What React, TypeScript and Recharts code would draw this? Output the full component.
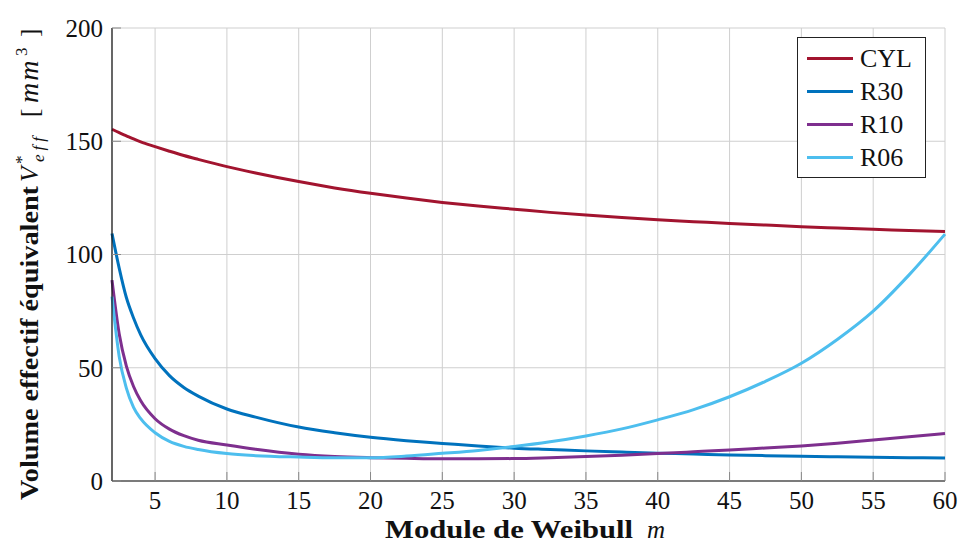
import React from 'react'
import { LineChart, Line, XAxis, YAxis, CartesianGrid, Legend } from 'recharts'

// m values (Weibull modulus) and effective volumes
const modules = [2, 2.5, 3, 3.5, 4, 5, 6, 7, 8, 10, 12, 15, 17.5, 20, 22.5, 25, 27.5, 30, 32.5, 35, 37.5, 40, 42.5, 45, 47.5, 50, 52.5, 55, 57.5, 60]
const cyl = [155.3, 153.8, 152.4, 151, 149.7, 147.6, 145.6, 143.7, 142, 138.8, 136, 132.2, 129.4, 127, 124.9, 123, 121.4, 120, 118.6, 117.4, 116.3, 115.3, 114.5, 113.7, 113, 112.3, 111.7, 111.1, 110.6, 110.1]
const r30 = [109.3, 94, 81, 72, 64.5, 54, 46.5, 41.3, 37.5, 31.8, 28.2, 23.8, 21.3, 19.3, 17.8, 16.6, 15.4, 14.5, 13.9, 13.3, 12.8, 12.3, 11.9, 11.5, 11.2, 10.9, 10.7, 10.5, 10.3, 10.2]
const r10 = [88.7, 65, 50.7, 41.7, 35.4, 27.5, 22.9, 20, 18, 15.9, 14, 11.8, 10.8, 10.3, 10, 9.8, 9.8, 9.9, 10.3, 10.8, 11.4, 12.1, 12.9, 13.7, 14.6, 15.5, 16.7, 18.1, 19.5, 21]
const r06 = [81.4, 55, 41, 32.5, 27.5, 21.3, 17.5, 15.3, 13.9, 12.1, 11.2, 10.6, 10.3, 10.3, 11, 12.2, 13.5, 15.2, 17.3, 19.9, 23, 27, 31.5, 37.2, 44, 52, 62.5, 75, 91, 109]

const xTicks = [5, 10, 15, 20, 25, 30, 35, 40, 45, 50, 55, 60]
const yTicks = [0, 50, 100, 150, 200]

const series = [
  { key: 'CYL', color: '#A2142F' },
  { key: 'R30', color: '#0072BD' },
  { key: 'R10', color: '#7E2F8E' },
  { key: 'R06', color: '#4DBEEE' },
]

const data = modules.map((m, i) => ({ m, CYL: cyl[i], R30: r30[i], R10: r10[i], R06: r06[i] }))

const FONT = 'Liberation Serif, Times New Roman, DejaVu Serif, serif'

function LegendBox() {
  return (
    <div style={{ border: '1px solid #222', background: '#fff', width: 129, height: 141, boxSizing: 'border-box', paddingTop: 4, fontFamily: FONT }}>
      {series.map(s => (
        <div key={s.key} style={{ display: 'flex', alignItems: 'center', height: 33 }}>
          <div style={{ width: 46, height: 3, background: s.color, marginLeft: 9, marginRight: 7 }} />
          <span style={{ fontSize: 26, color: '#111', lineHeight: '33px' }}>{s.key}</span>
        </div>
      ))}
    </div>
  )
}

// rotated title: x runs upward from page y=500
function YTitle() {
  return (
    <text transform="translate(38,500) rotate(-90)" x={0} y={0} fontFamily={FONT} fontSize={25} fill="#111">
      <tspan fontWeight="bold" textLength={314} lengthAdjust="spacingAndGlyphs">Volume effectif équivalent</tspan>
      <tspan fontStyle="italic" x={318}>V</tspan>
      <tspan fontSize={17} x={336} dy={-11}>*</tspan>
      <tspan fontSize={17} fontStyle="italic" x={338} dy={17} letterSpacing={4}>eff</tspan>
      <tspan x={383} dy={-6}>[</tspan>
      <tspan fontStyle="italic" x={397} fontSize={28} letterSpacing={2}>mm</tspan>
      <tspan fontSize={17} x={444} dy={-11}>3</tspan>
      <tspan x={463} dy={11}>]</tspan>
    </text>
  )
}

function XTitle() {
  return (
    <text x={385} y={538} fontFamily={FONT} fontSize={25} fill="#111">
      <tspan fontWeight="bold" textLength={248} lengthAdjust="spacingAndGlyphs">Module de Weibull</tspan>
      <tspan fontStyle="italic" x={647}>m</tspan>
    </text>
  )
}

export default function App() {
  return (
    <div style={{ position: 'absolute', left: 0, top: 0, background: '#fff' }}>
      <LineChart width={960} height={549} data={data} margin={{ top: 28, right: 15, left: 52, bottom: 38 }}>
        <CartesianGrid stroke="#cfcfcf" strokeWidth={1} />
        <XAxis
          dataKey="m"
          type="number"
          domain={[2, 60]}
          ticks={xTicks}
          height={30}
          interval={0}
          axisLine={{ stroke: '#111', strokeWidth: 1.2 }}
          tickLine={{ stroke: '#888' }}
          tickSize={-9}
          tickMargin={19}
          tick={{ fill: '#111', fontSize: 25, fontFamily: FONT }}
          label={<XTitle />}
        />
        <YAxis
          type="number"
          domain={[0, 200]}
          ticks={yTicks}
          width={60}
          interval={0}
          axisLine={{ stroke: '#111', strokeWidth: 1.2 }}
          tickLine={{ stroke: '#888' }}
          tickSize={-9}
          tickMargin={18}
          tick={{ fill: '#111', fontSize: 25, fontFamily: FONT }}
          label={<YTitle />}
        />
        <Legend
          layout="vertical"
          verticalAlign="middle"
          align="center"
          content={<LegendBox />}
          wrapperStyle={{ position: 'absolute', left: 797, top: 37, width: 130, height: 142 }}
        />
        {series.map(s => (
          <Line
            key={s.key}
            type="monotone"
            dataKey={s.key}
            stroke={s.color}
            strokeWidth={3}
            dot={false}
            isAnimationActive={false}
          />
        ))}
      </LineChart>
    </div>
  )
}
